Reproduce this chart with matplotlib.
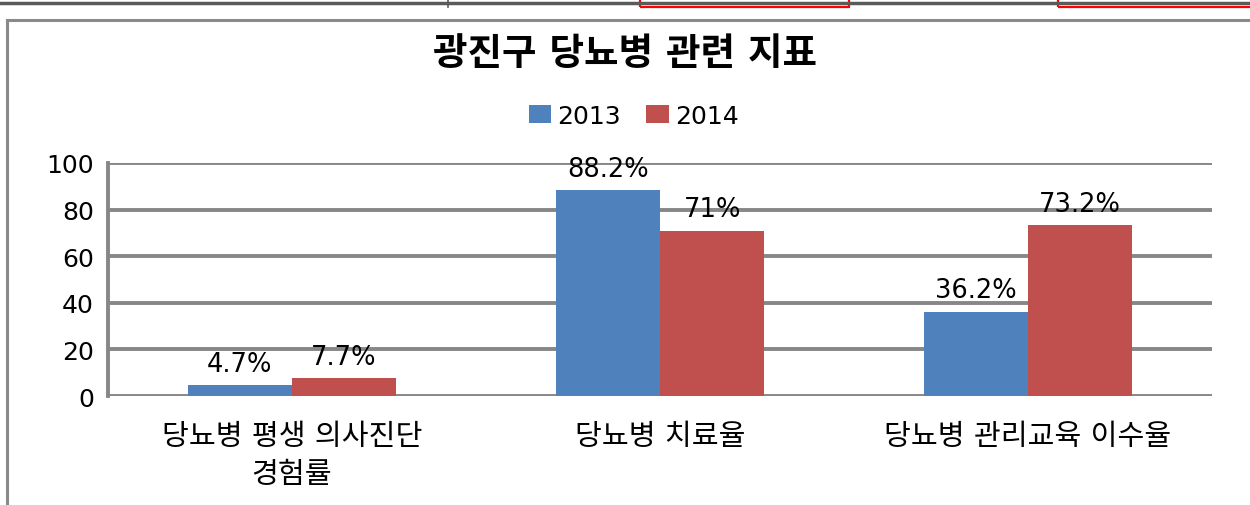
import matplotlib
matplotlib.use("Agg")
import matplotlib.pyplot as plt
from matplotlib.patches import Rectangle
from matplotlib.lines import Line2D
import numpy as np

plt.rcParams['font.family'] = ['DejaVu Sans', 'Noto Sans CJK KR']

categories = ['당뇨병 평생 의사진단\n경험률', '당뇨병 치료율', '당뇨병 관리교육 이수율']
years = ['2013', '2014']
vals_2013 = [4.7, 88.2, 36.2]
vals_2014 = [7.7, 71.0, 73.2]
labels_2013 = ['4.7%', '88.2%', '36.2%']
labels_2014 = ['7.7%', '71%', '73.2%']
yticks = [0, 20, 40, 60, 80, 100]

blue = '#4F81BD'
red = '#C0504D'
grid = '#878787'

fig = plt.figure(figsize=(12.5, 5.06), dpi=100)
ax = fig.add_axes([0.0864, 0.2154, 0.8832, 0.4605])

x = np.arange(len(categories))
w = 0.283
b1 = ax.bar(x - w / 2, vals_2013, w, color=blue, label=years[0], zorder=3)
b2 = ax.bar(x + w / 2, vals_2014, w, color=red, label=years[1], zorder=3)

for bars, labs in ((b1, labels_2013), (b2, labels_2014)):
    for bar, lab in zip(bars, labs):
        ax.annotate(lab, (bar.get_x() + bar.get_width() / 2, bar.get_height()),
                    xytext=(0, 6), textcoords='offset points',
                    ha='center', va='bottom', fontsize=18.5)

ax.set_xlim(-0.5, 2.5)
ax.set_ylim(0, 100)
ax.set_yticks(yticks)
ax.set_yticklabels([str(t) for t in yticks], fontsize=18)
ax.set_xticks(x)
ax.set_xticklabels(categories, fontsize=21, linespacing=1.45)
ax.tick_params(axis='both', length=0)
ax.tick_params(axis='y', pad=10)
ax.tick_params(axis='x', pad=19)

for t in yticks:
    ax.axhline(t, color=grid, lw=2.8, zorder=1)
for s in ['top', 'right', 'bottom']:
    ax.spines[s].set_visible(False)
ax.spines['left'].set_color(grid)
ax.spines['left'].set_linewidth(2.8)

fig.text(0.5, 0.891, '광진구 당뇨병 관련 지표', ha='center', va='center',
         fontsize=27, fontweight='bold')
fig.legend(loc='center', bbox_to_anchor=(0.507, 0.769), ncol=2, frameon=False,
           fontsize=18, handlelength=0.9, handleheight=0.7, handletextpad=0.25,
           columnspacing=1.0)

# outer chart frame and top strip from the screenshot
fig.add_artist(Line2D([0.0056, 0.0056], [0, 0.958], color='#8a8a8a', lw=2.2))
fig.add_artist(Line2D([0.0056, 1.0], [0.958, 0.958], color='#8a8a8a', lw=2.2))
fig.add_artist(Line2D([0, 1], [0.992, 0.992], color='#5a5a5a', lw=2.5))
fig.add_artist(Line2D([0.358, 0.358], [0.985, 1.0], color='#5a5a5a', lw=1.2))
fig.add_artist(Rectangle((0.512, 0.985), 0.167, 0.03, fill=False, ec='red', lw=1.6))
fig.add_artist(Rectangle((0.846, 0.985), 0.16, 0.03, fill=False, ec='red', lw=1.6))

fig.savefig('out.png', dpi=100)
